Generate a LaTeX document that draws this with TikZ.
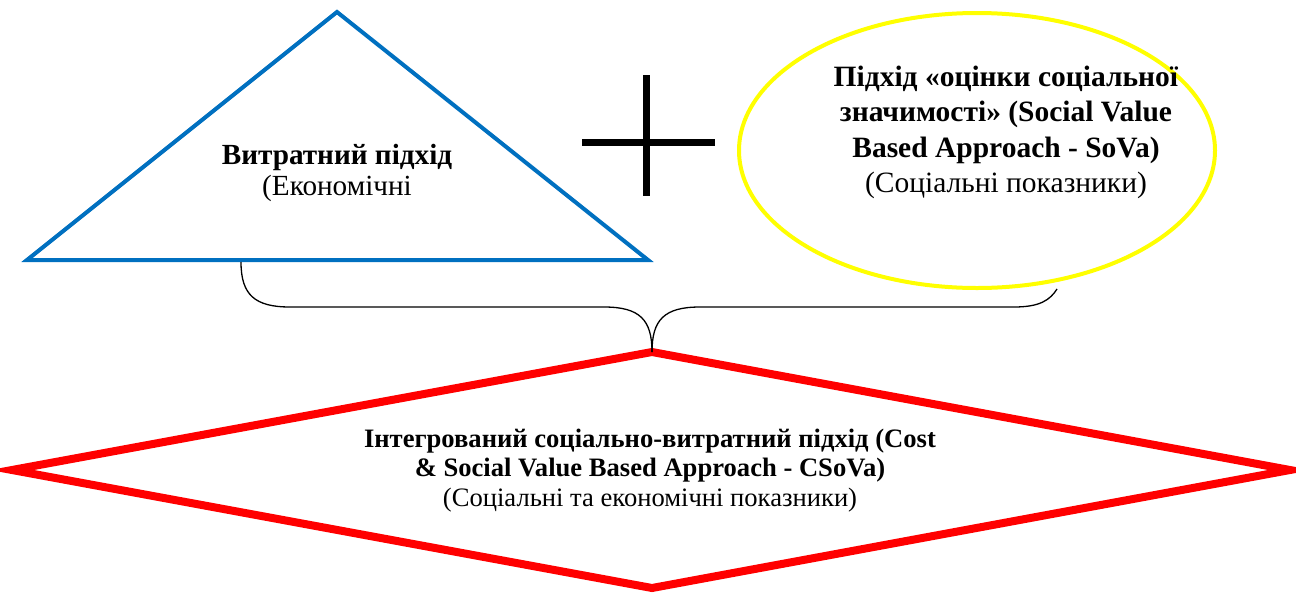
\documentclass[tikz,border=0pt]{standalone}
\usepackage{fontspec}
\setmainfont{Liberation Serif}
\definecolor{triblue}{HTML}{0070C0}
\definecolor{elyellow}{HTML}{FFFF00}
\definecolor{dmred}{HTML}{FF0000}
\begin{document}
\begin{tikzpicture}[x=1pt,y=-1pt,
  tritxt/.style={align=center,inner sep=0pt,font=\fontsize{29.2}{31}\selectfont},
  eltxt/.style={align=center,inner sep=0pt,font=\fontsize{29.5}{35.3}\selectfont},
  dmtxt/.style={align=center,inner sep=0pt,font=\fontsize{26.6}{29.3}\selectfont},
  brace/.style={draw=black,line width=1.3pt}]
\useasboundingbox (0,0) rectangle (1296,592);
% triangle
\coordinate (tA) at (337,12);
\coordinate (tL) at (27,260);
\coordinate (tR) at (648,260);
\draw[triblue,line width=4pt,line join=miter] (tA) -- (tL) -- (tR) -- cycle;
\node[tritxt] (tri) at (337,173) {\textbf{Витратний підхід}\\(Економічні};
% plus
\coordinate (pL) at (582,142);
\coordinate (pR) at (715,142);
\coordinate (pT) at (646,75);
\coordinate (pB) at (646,196);
\draw[line width=7pt] (pL) -- (pR);
\draw[line width=7pt] (pT) -- (pB);
% ellipse
\coordinate (eC) at (977,150.5);
\draw[elyellow,line width=4pt] (eC) ellipse [x radius=238, y radius=137.5];
\node[eltxt] (ell) at (1006,132.5) {\textbf{Підхід «оцінки соціальної}\\\textbf{значимості» (Social Value}\\\textbf{Based Approach - SoVa)}\\(Соціальні показники)};
% diamond
\coordinate (dT) at (652,352);
\coordinate (dL) at (12,470);
\coordinate (dR) at (1290,470);
\coordinate (dB) at (652,588);
\draw[dmred,line width=8pt,line join=miter] (dT) -- (dR) -- (dB) -- (dL) -- cycle;
\node[dmtxt] (dm) at (650,470.5) {\textbf{Інтегрований соціально-витратний підхід (Cost}\\\textbf{\& Social Value Based Approach - CSoVa)}\\(Соціальні та економічні показники)};
% brace
\coordinate (bL) at (241,262);
\coordinate (bR) at (1057,289);
\draw[brace] (bL) .. controls (241,295) and (255,307) .. (290,307) -- (604,307)
  .. controls (640,307) and (652,320) .. (dT);
\draw[brace] (dT) .. controls (652,320) and (664,307) .. (700,307) -- (1014,307)
  .. controls (1040,307) and (1050,300) .. (bR);
\end{tikzpicture}
\end{document}
